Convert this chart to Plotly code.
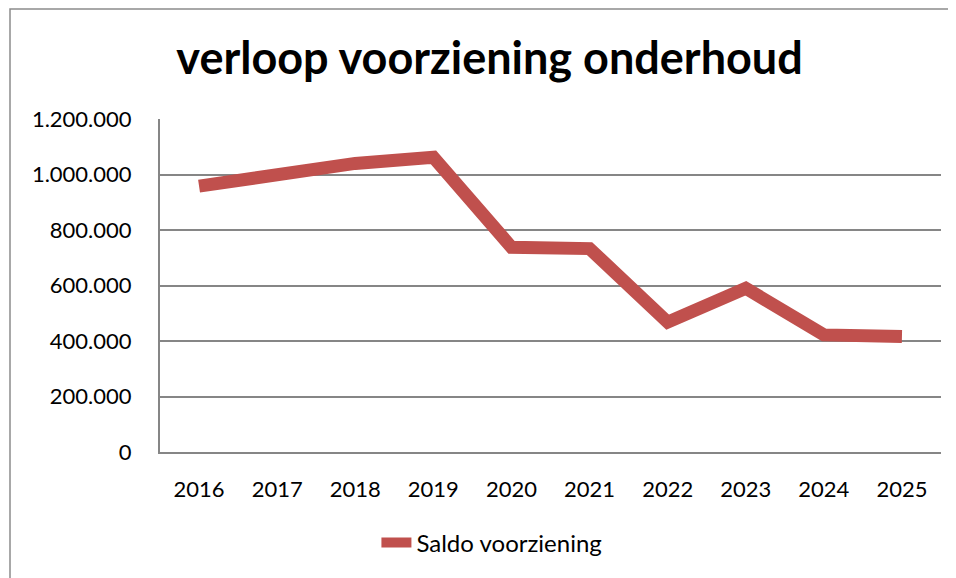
import plotly.graph_objects as go

# jaren en saldo voorziening onderhoud
jaren = ["2016", "2017", "2018", "2019", "2020", "2021", "2022", "2023", "2024", "2025"]
saldo = [958000, 1001000, 1040000, 1062000, 738000, 733000, 468000, 590000, 422000, 416000]
y_ticks = [0, 200000, 400000, 600000, 800000, 1000000, 1200000]

FONT = "Lato, 'Open Sans', sans-serif"
GRID = "#868686"

fig = go.Figure()
fig.add_trace(go.Scatter(
    x=jaren,
    y=saldo,
    mode="lines",
    name="Saldo voorziening",
    line=dict(color="#C0504D", width=13),
))

# de pagina heeft 8px body-marge, dus de figuur iets kleiner maken
fig.update_layout(
    width=948,
    height=570,
    margin=dict(l=152, r=15, t=111, b=126),
    paper_bgcolor="white",
    plot_bgcolor="white",
    separators=",.",
    font=dict(family=FONT, size=22, color="black"),
    title=dict(
        text="<b>verloop voorziening onderhoud</b>",
        font=dict(family=FONT, size=45, color="black"),
        x=0.508, xanchor="center",
        y=0.912, yanchor="middle",
    ),
    showlegend=True,
    legend=dict(
        orientation="h",
        x=0.425, xanchor="center",
        y=-0.273, yanchor="middle",
        font=dict(size=24),
    ),
    xaxis=dict(
        type="category",
        range=[-0.5, 9.5],
        showgrid=False,
        showline=True,
        linecolor=GRID,
        linewidth=2,
        ticks="",
        ticklabelstandoff=17,
    ),
    yaxis=dict(
        range=[0, 1200000],
        tickvals=y_ticks,
        tickformat=",d",
        showgrid=True,
        gridcolor=GRID,
        gridwidth=1.5,
        showline=True,
        linecolor=GRID,
        linewidth=2,
        zeroline=False,
        ticks="",
        ticklabelstandoff=22,
    ),
    shapes=[
        dict(
            type="rect", xref="paper", yref="paper",
            x0=-150 / 781, x1=1.1, y0=-0.5, y1=(452 - 9) / 333,
            line=dict(color="#8c8c8c", width=1.5),
            fillcolor="rgba(0,0,0,0)",
            layer="below",
        )
    ],
)

fig.write_html("out.html")
